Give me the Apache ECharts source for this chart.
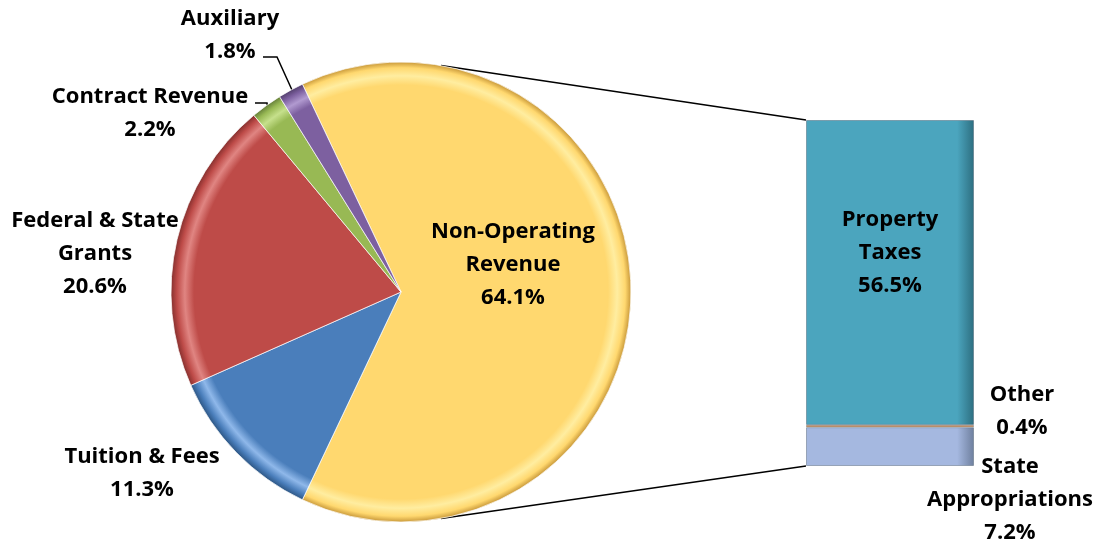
<!DOCTYPE html>
<html>
<head>
<meta charset="utf-8">
<title>Revenue</title>
<script src="https://cdn.jsdelivr.net/npm/echarts@6/dist/echarts.min.js"></script>
<style>
  body { margin: 0; background: #fff; }
  #chart { width: 1099px; height: 548px; }
</style>
</head>
<body>
<div id="chart"></div>
<script>
// pie slices (percent of total revenue)
const pieNames = ['Non-Operating\nRevenue', 'Tuition & Fees', 'Federal & State\nGrants', 'Contract Revenue', 'Auxiliary'];
const pieValues = [64.1, 11.3, 20.6, 2.2, 1.8];

// breakdown of the non-operating slice, bottom to top
const barNames = ['State\nAppropriations', 'Other', 'Property\nTaxes'];
const barValues = [7.2, 0.4, 56.5];

const pieColors = [
  ['#FFD86F', '#FFEDA0', '#C9993A'],
  ['#4A7EBB', '#8FB8EA', '#2D5684'],
  ['#BE4B48', '#E08582', '#86302E'],
  ['#98B954', '#C6E08C', '#66803A'],
  ['#7D60A0', '#B19AD0', '#54406E']
];
const barColors = [
  ['#A5B8E0', '#C9D6F2', '#6E7F9E'],
  ['#F79646', '#F79646', '#F79646'],
  ['#4BA5BE', '#7FD3EA', '#2D6E80']
];

const FONT = "'Open Sans', sans-serif";
const PIE_C = [401, 292];
const PIE_R = 230;
const BAR = { left: 806, top: 120, width: 168, height: 346 };

// label centres
const pieLabelPos = [[513, 265], [142, 473], [95, 254], [150, 113], [230, 35]];
const pieLeader = {
  3: [[268, 110], [267, 103], [255, 103]],
  4: [[292, 90], [277, 57], [263, 57]]
};
const barLabelPos = [[1010, 500], [1022, 411], [890, 253]];

const total = pieValues.reduce((a, b) => a + b, 0);
const startAngle = 360 * pieValues[0] / total / 2;

function rim(c) {
  return {
    type: 'radial', x: PIE_C[0], y: PIE_C[1], r: PIE_R, global: true,
    colorStops: [
      { offset: 0, color: c[0] },
      { offset: 0.9, color: c[0] },
      { offset: 0.94, color: c[1] },
      { offset: 0.975, color: c[0] },
      { offset: 1, color: c[2] }
    ]
  };
}

// horizontal bevel for the bar segments
function bevel(c) {
  return {
    type: 'linear', x: 0, y: 0, x2: 1, y2: 0,
    colorStops: [
      { offset: 0, color: c[0] },
      { offset: 0.9, color: c[0] },
      { offset: 1, color: c[2] }
    ]
  };
}

const labelStyle = {
  fontFamily: FONT, fontWeight: 'bold', fontSize: 22, color: '#000',
  lineHeight: 33, align: 'center', overflow: 'none'
};

const chart = echarts.init(document.getElementById('chart'));

const barTotal = barValues.reduce((a, b) => a + b, 0);

// series lines from the pie to the bar
const a1 = 80 * Math.PI / 180;
const lines = [
  [[PIE_C[0] + PIE_R * Math.cos(a1), PIE_C[1] - PIE_R * Math.sin(a1)], [BAR.left, BAR.top]],
  [[PIE_C[0] + PIE_R * Math.cos(a1), PIE_C[1] + PIE_R * Math.sin(a1)], [BAR.left, BAR.top + BAR.height]]
];

chart.setOption({
  backgroundColor: '#fff',
  animation: false,
  grid: { left: BAR.left, top: BAR.top, width: BAR.width, height: BAR.height },
  xAxis: { type: 'category', data: ['x'], show: false },
  yAxis: { type: 'value', min: 0, max: barTotal, show: false },
  graphic: lines.map(l => ({
    type: 'line', z: 1,
    shape: { x1: l[0][0], y1: l[0][1], x2: l[1][0], y2: l[1][1] },
    style: { stroke: '#000', lineWidth: 1.5 }
  })),
  series: [
    {
      type: 'pie',
      center: PIE_C,
      radius: PIE_R,
      startAngle: startAngle,
      clockwise: true,
      z: 3,
      data: pieValues.map((v, i) => ({
        name: pieNames[i],
        value: v,
        itemStyle: { color: rim(pieColors[i]) },
        labelLine: { show: !!pieLeader[i] }
      })),
      itemStyle: { borderColor: 'rgba(255,255,255,0.7)', borderWidth: 1 },
      label: Object.assign({ formatter: p => p.name + '\n' + p.value.toFixed(1) + '%' }, labelStyle),
      labelLine: { lineStyle: { color: '#000', width: 1.5 }, length: 10, length2: 10 },
      labelLayout: p => {
        const pos = pieLabelPos[p.dataIndex];
        const out = { x: pos[0], y: pos[1], align: 'center', verticalAlign: 'middle' };
        if (pieLeader[p.dataIndex]) out.labelLinePoints = pieLeader[p.dataIndex];
        return out;
      },
      emphasis: { disabled: true }
    }
  ].concat(barValues.map((v, i) => ({
    type: 'bar',
    name: barNames[i],
    stack: 'np',
    barWidth: '100%',
    z: 3,
    data: [v],
    itemStyle: { color: bevel(barColors[i]), borderColor: 'rgba(40,60,80,0.35)', borderWidth: 1 },
    label: Object.assign({
      show: true,
      formatter: p => barNames[i] + '\n' + v.toFixed(1) + '%'
    }, labelStyle),
    labelLayout: () => ({
      x: barLabelPos[i][0], y: barLabelPos[i][1], align: 'center', verticalAlign: 'middle'
    }),
    emphasis: { disabled: true }
  })))
});
</script>
</body>
</html>
